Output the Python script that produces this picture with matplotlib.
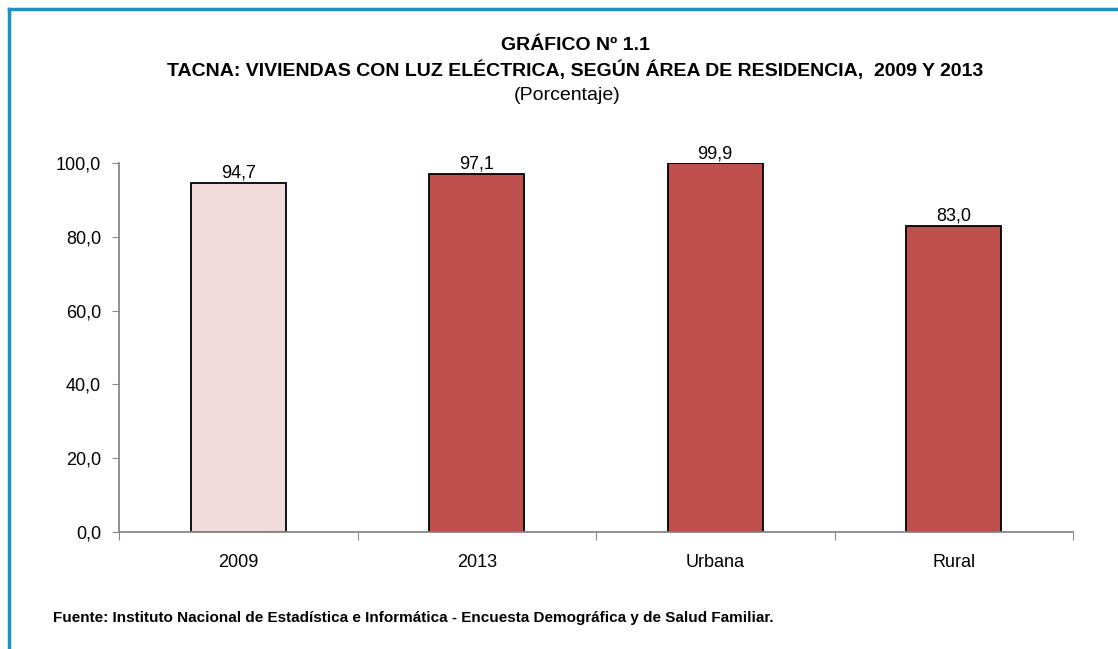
import matplotlib
matplotlib.use("Agg")
import matplotlib.pyplot as plt
from matplotlib.lines import Line2D

categories = ["2009", "2013", "Urbana", "Rural"]
values = [94.7, 97.1, 99.9, 83.0]
colors = ["#F2DCDB", "#C0504D", "#C0504D", "#C0504D"]
yticks = [0, 20, 40, 60, 80, 100]

plt.rcParams["font.family"] = ["Liberation Sans", "DejaVu Sans"]

W, H = 1118, 649
fig = plt.figure(figsize=(W / 100, H / 100), dpi=100)

ax = fig.add_axes([119 / W, 1 - 532 / H, (1073 - 119) / W, (532 - 163) / H])
x = list(range(len(categories)))
ax.bar(x, values, width=0.4, color=colors, edgecolor="black", linewidth=1.3, zorder=2)
for xi, v in zip(x, values):
    ax.text(xi, v + 0.3, f"{v:.1f}".replace(".", ","), ha="center", va="bottom", fontsize=13)

ax.set_xlim(-0.5, len(categories) - 0.5)
ax.set_ylim(0, 100)
ax.set_yticks(yticks)
ax.set_yticklabels([f"{t:.1f}".replace(".", ",") for t in yticks], fontsize=13)
ax.set_xticks([i - 0.5 for i in range(len(categories) + 1)])
ax.set_xticklabels([])
ax.set_xticks(x, minor=True)
ax.set_xticklabels(categories, minor=True, fontsize=13)
ax.tick_params(axis="x", which="minor", length=0, pad=16)
ax.tick_params(axis="x", which="major", length=6, color="#888888", direction="out")
ax.tick_params(axis="y", length=5, color="#888888", pad=8)
for s in ["top", "right"]:
    ax.spines[s].set_visible(False)
for s in ["left", "bottom"]:
    ax.spines[s].set_color("#888888")
    ax.spines[s].set_linewidth(1.3)

fig.text(575 / W, 1 - 45 / H, "GRÁFICO Nº 1.1", ha="center", va="center", fontsize=14, fontweight="bold")
fig.text(575 / W, 1 - 70 / H, "TACNA: VIVIENDAS CON LUZ ELÉCTRICA, SEGÚN ÁREA DE RESIDENCIA,  2009 Y 2013",
         ha="center", va="center", fontsize=14, fontweight="bold")
fig.text(567 / W, 1 - 96 / H, "(Porcentaje)", ha="center", va="center", fontsize=14)
fig.text(53 / W, 1 - 618 / H, "Fuente: Instituto Nacional de Estadística e Informática - Encuesta Demográfica y de Salud Familiar.",
         ha="left", va="center", fontsize=11, fontweight="bold")

fig.add_artist(Line2D([9 / W, 1], [1 - 9 / H, 1 - 9 / H], color="#1F8FC4", linewidth=2.5, transform=fig.transFigure))
fig.add_artist(Line2D([9 / W, 9 / W], [1 - 9 / H, 0], color="#1F8FC4", linewidth=2.5, transform=fig.transFigure))

fig.savefig("out.png", dpi=100)
